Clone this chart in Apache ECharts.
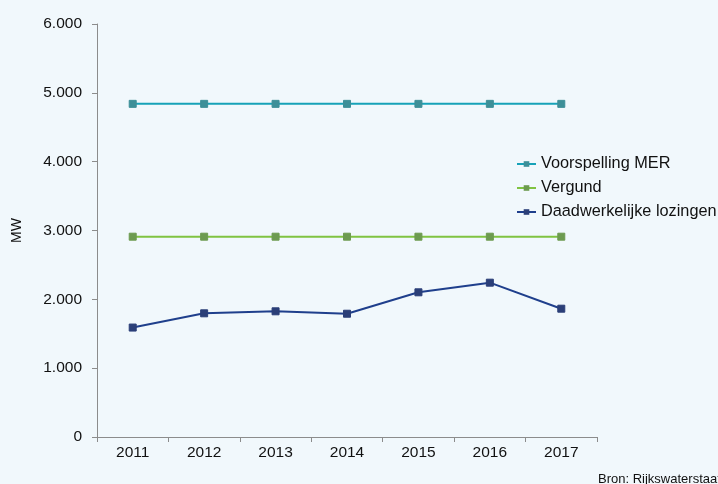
<!DOCTYPE html>
<html lang="nl">
<head>
	<meta charset="UTF-8">
	<title>Koelwaterlozingen</title>
	<script src="https://cdn.jsdelivr.net/npm/echarts@6/dist/echarts.min.js"></script>
	<style>
		body { margin: 0; background: #f1f8fc; }
	</style>
</head>
<body>
	<div id="main" style="width: 718px; height: 484px;"></div>
	<script>
		// jaren op de x-as
		var jaren = ['2011', '2012', '2013', '2014', '2015', '2016', '2017']
		// waarden in MW
		var voorspelling = [4840, 4840, 4840, 4840, 4840, 4840, 4840]
		var vergund = [2910, 2910, 2910, 2910, 2910, 2910, 2910]
		var lozingen = [1590, 1797, 1826, 1791, 2102, 2242, 1864]

		var font = 'Liberation Sans, Arial, sans-serif'

		function serie (naam, data, lijnKleur, puntKleur) {
			return {
				name: naam,
				type: 'line',
				data: data,
				symbol: 'rect',
				symbolSize: 7,
				color: lijnKleur,
				lineStyle: { width: 2, color: lijnKleur },
				itemStyle: { color: puntKleur, borderColor: puntKleur },
				animation: false
			}
		}

		const myChart = echarts.init(document.getElementById('main'))
		const option = {
			backgroundColor: '#f1f8fc',
			textStyle: { fontFamily: font },
			legend: {
				orient: 'vertical',
				left: 516,
				top: 156,
				padding: 0,
				itemGap: 8,
				itemWidth: 19,
				itemHeight: 7,
				textStyle: { fontSize: 16.3, color: '#111', fontFamily: font },
				data: ['Voorspelling MER', 'Vergund', 'Daadwerkelijke lozingen']
			},
			grid: {
				left: 97,
				top: 24,
				width: 500,
				height: 413,
				outerBoundsMode: 'none'
			},
			xAxis: {
				type: 'category',
				data: jaren,
				boundaryGap: true,
				axisLine: { lineStyle: { color: '#8c8c8c' } },
				axisTick: { show: true, length: 5, inside: false, lineStyle: { color: '#8c8c8c' } },
				axisLabel: { color: '#111', fontSize: 15.5, margin: 8, fontFamily: font },
				splitLine: { show: false }
			},
			yAxis: {
				type: 'value',
				min: 0,
				max: 6000,
				interval: 1000,
				name: 'MW',
				nameLocation: 'middle',
				nameRotate: 90,
				nameGap: 73,
				nameTextStyle: { color: '#111', fontSize: 14, fontFamily: font },
				axisLine: { show: true, lineStyle: { color: '#8c8c8c' } },
				axisTick: { show: true, length: 5, lineStyle: { color: '#8c8c8c' } },
				axisLabel: {
					color: '#111',
					fontSize: 15.5,
					margin: 15,
					fontFamily: font,
					formatter: function (v) {
						return v === 0 ? '0' : (v / 1000).toFixed(0) + '.000'
					}
				},
				splitLine: { show: false }
			},
			graphic: [
				{
					type: 'text',
					left: 598,
					top: 473,
					style: { text: 'Bron: Rijkswaterstaat', fontSize: 13, fill: '#111', fontFamily: font }
				}
			],
			series: [
				serie('Voorspelling MER', voorspelling, '#17a2b8', '#3d8f98'),
				serie('Vergund', vergund, '#80c342', '#6d9b50'),
				serie('Daadwerkelijke lozingen', lozingen, '#1f3f8c', '#2b3f78')
			]
		}
		myChart.setOption(option)
	</script>
</body>
</html>
